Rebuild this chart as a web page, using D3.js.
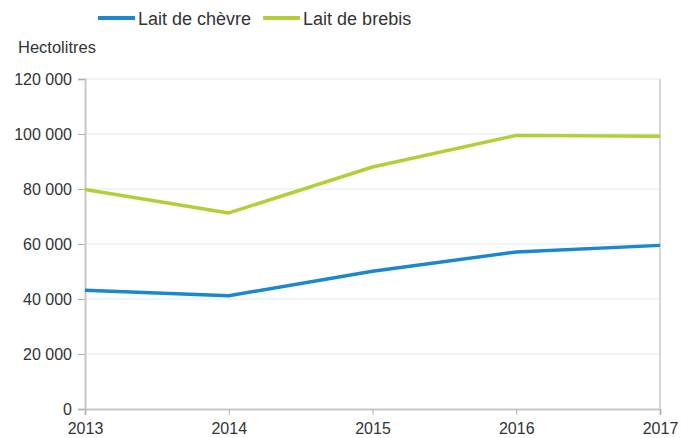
<!DOCTYPE html>
<html>
<head>
<meta charset="utf-8">
<script src="https://cdn.jsdelivr.net/npm/d3@7"></script>
<style>
  body { margin: 0; background: #fff; }
  text { font-family: "Liberation Sans", Arial, sans-serif; fill: #333; }
</style>
</head>
<body>
<div id="chart"></div>
<script>
const years = [2013, 2014, 2015, 2016, 2017];
const chevre = [43200, 41200, 50100, 57100, 59500];
const brebis = [79800, 71300, 88000, 99500, 99200];
const yTicks = [0, 20000, 40000, 60000, 80000, 100000, 120000];
const seriesNames = ["Lait de chèvre", "Lait de brebis"];

const colors = ["#1c86cf", "#b1cf37"];
const width = 690, height = 438;
const margin = { top: 79, right: 30, bottom: 29, left: 85 };

const svg = d3.select("#chart")
  .append("svg")
  .attr("width", width)
  .attr("height", height);

const x = d3.scaleLinear()
  .domain([years[0], years[years.length - 1]])
  .range([margin.left, width - margin.right]);

const y = d3.scaleLinear()
  .domain([0, 120000])
  .range([height - margin.bottom, margin.top]);

const fmt = v => d3.format(",")(v).replace(/,/g, " ");

// grid
svg.append("g")
  .selectAll("line")
  .data(yTicks.filter(d => d > 0))
  .enter()
  .append("line")
  .attr("x1", x.range()[0])
  .attr("x2", x.range()[1])
  .attr("y1", d => y(d))
  .attr("y2", d => y(d))
  .attr("stroke", "#ddebf5")
  .attr("stroke-width", 1);

// y axis
const yAxis = svg.append("g")
  .attr("transform", "translate(" + margin.left + ",0)")
  .call(d3.axisLeft(y).tickValues(yTicks).tickFormat(fmt).tickSizeOuter(0).tickSize(7).tickPadding(6));

// right border
svg.append("line")
  .attr("x1", x.range()[1]).attr("x2", x.range()[1])
  .attr("y1", y(0)).attr("y2", y(120000))
  .attr("stroke", "#c8c8c8").attr("stroke-width", 1.5);

// x axis
const xAxis = svg.append("g")
  .attr("transform", "translate(0," + y(0) + ")")
  .call(d3.axisBottom(x).tickValues(years).tickFormat(d3.format("d")).tickSizeOuter(0).tickSize(6).tickPadding(8));

[yAxis, xAxis].forEach(a => {
  a.select(".domain").attr("stroke", "#c8c8c8").attr("stroke-width", 2);
  a.selectAll(".tick line").attr("stroke", "#b0b0b0");
  a.selectAll(".tick text").style("font-size", "16px").attr("fill", "#333");
});

// lines
const line = d3.line()
  .x((d, i) => x(years[i]))
  .y(d => y(d));

[chevre, brebis].forEach((s, k) => {
  svg.append("path")
    .datum(s)
    .attr("d", line)
    .attr("fill", "none")
    .attr("stroke", colors[k])
    .attr("stroke-width", 3.5)
    .attr("stroke-linejoin", "round");
});

// y label
svg.append("text")
  .attr("x", 18)
  .attr("y", 53)
  .style("font-size", "16.5px")
  .text("Hectolitres");

// legend
const legend = svg.append("g").attr("transform", "translate(98,18)");
let lx = 0;
seriesNames.forEach((name, i) => {
  const g = legend.append("g").attr("transform", "translate(" + lx + ",0)");
  g.append("line")
    .attr("x1", 0).attr("x2", 37)
    .attr("y1", 0).attr("y2", 0)
    .attr("stroke", colors[i])
    .attr("stroke-width", 4);
  const t = g.append("text")
    .attr("x", 40)
    .attr("y", 7)
    .style("font-size", "18px")
    .text(name);
  lx += 40 + t.node().getComputedTextLength() + 12;
});
</script>
</body>
</html>
